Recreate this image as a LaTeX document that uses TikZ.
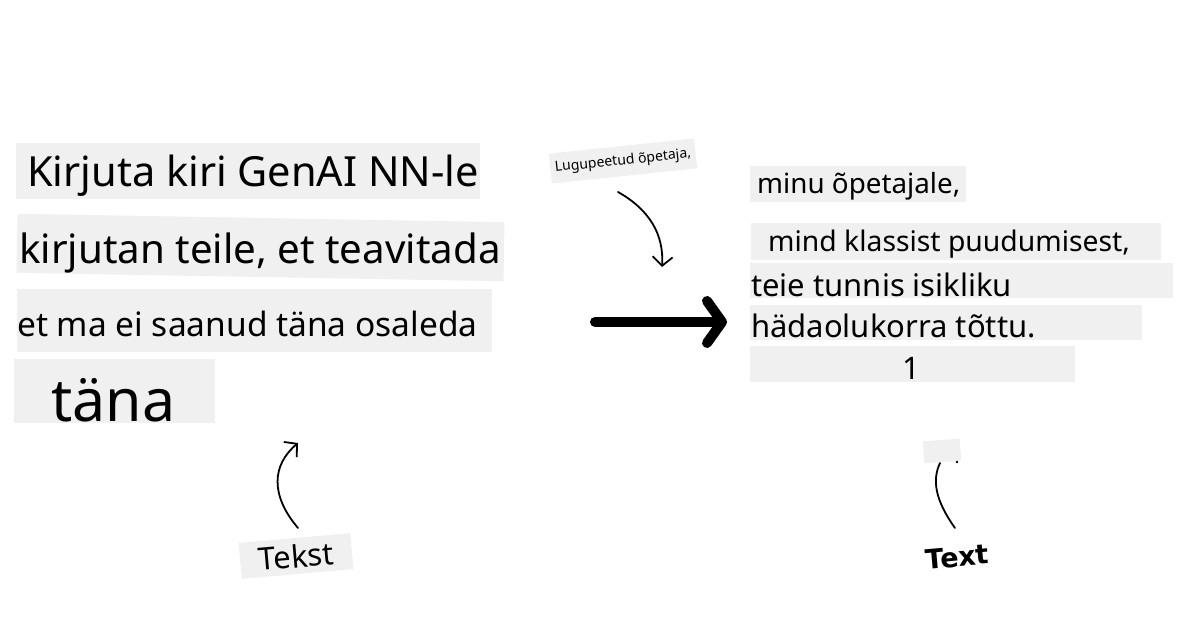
\documentclass[tikz,border=0pt]{standalone}
\usepackage{fontspec}
\setmainfont{Noto Sans}
\newfontfamily\handfont{DejaVu Sans}
\usetikzlibrary{arrows.meta}
\definecolor{boxgray}{HTML}{F0F0F0}
\tikzset{
  txt/.style={anchor=base west, inner sep=0pt, text=black},
  boxbg/.style={fill=boxgray, draw=none},
  thinarrow/.style={line width=1.8pt, line cap=round, -{Straight Barb[length=9pt, width=20pt, line width=1.8pt]}},
  bigarrow/.style={line width=10pt, line cap=round, -{Straight Barb[length=15pt, width=42pt, line width=10pt, round]}},
}
\newcommand{\fs}[1]{\fontsize{#1}{#1}\selectfont}
\begin{document}
\begin{tikzpicture}[x=1pt, y=-1pt]
\useasboundingbox (0,0) rectangle (1200,628);
\fill[white] (0,0) rectangle (1200,628);

% left boxes
\fill[boxgray] (16,143) rectangle (480,199);
\node[txt] (l1) at (27,187) {\fs{41.5}Kirjuta kiri GenAI NN-le};
\fill[boxgray, rotate around={-1:(260,247)}] (17,218) rectangle (504,277);
\node[txt] (l2) at (19,264) {\fs{40.3}kirjutan teile, et teavitada};
\fill[boxgray] (17,289) rectangle (492,352);
\node[txt] (l3) at (17,337) {\fs{33.5}et ma ei saanud täna osaleda};
\fill[boxgray] (14,359) rectangle (215,423);
\begin{scope}
\clip (0,0) rectangle (1200,423);
\node[txt] (l4) at (51,421) {\fs{59}täna};
\end{scope}

% right boxes
\fill[boxgray] (750,166) rectangle (966,202);
\node[txt] (r1) at (757,194) {\fs{27.8}minu õpetajale,};
\fill[boxgray] (751,223) rectangle (1161,260);
\node[txt] (r2) at (768,252) {\fs{28.3}mind klassist puudumisest,};
\fill[boxgray] (750,263) rectangle (1173,298);
\node[txt] (r3) at (751,297) {\fs{31}teie tunnis isikliku};
\fill[boxgray] (750,305) rectangle (1142,340);
\node[txt] (r4) at (751,338) {\fs{31}hädaolukorra tõttu.};
\fill[boxgray] (750,346) rectangle (1075,382);
\node[anchor=base, inner sep=0pt] (r5) at (911,380) {\fs{31}1};

% label Lugupeetud
\node[fill=boxgray, rotate=6, minimum width=146pt, minimum height=30pt, inner sep=0pt] (lbl) at (623,161) {\fs{14}Lugupeetud õpetaja,};
\coordinate (a1s) at (618,192);
\coordinate (a1e) at (662,267);
\draw[thinarrow] (a1s) .. controls (650,210) and (664,235) .. (a1e);

% big arrow
\coordinate (bs) at (595,322);
\coordinate (be) at (727,322);
\draw[bigarrow] (bs) -- (be);

% Tekst label
\node[fill=boxgray, rotate=5, minimum width=112pt, minimum height=36pt, inner sep=0pt] (tekst) at (296,556) {\fs{31}Tekst};
\coordinate (a2s) at (298,528);
\coordinate (a2e) at (298,443);
\draw[thinarrow] (a2s) .. controls (270,495) and (272,465) .. (a2e);

% Text label right
\node[rotate=5, inner sep=0pt] (text) at (957,557) {\handfont\bfseries\fs{27}Text};
\node[fill=boxgray, rotate=4, minimum width=37pt, minimum height=22pt, inner sep=0pt] (tiny) at (942,451) {};
\coordinate (a3s) at (955,528);
\coordinate (a3e) at (940,463);
\draw[line width=1.8pt, line cap=round] (a3s) .. controls (935,500) and (932,480) .. (a3e);
\fill (957,462) circle (1.3pt);
\end{tikzpicture}
\end{document}
